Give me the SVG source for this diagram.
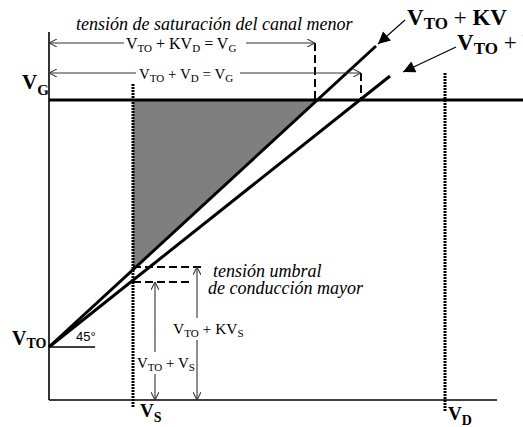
<svg xmlns="http://www.w3.org/2000/svg" width="523" height="427" viewBox="0 0 523 427">
<defs>
<style>
.ax{stroke:#000;stroke-width:1.6;fill:none}
.thick{stroke:#000;stroke-width:3;fill:none}
.dot{stroke:#000;stroke-width:3;stroke-dasharray:2 1;fill:none}
.dash{stroke:#000;stroke-width:2;stroke-dasharray:8 4;fill:none}
.dim{stroke:#333;stroke-width:1.1;fill:none}
.t{font-family:"Liberation Serif","Times New Roman",serif;fill:#000}
.it{font-style:italic}
.b{font-weight:bold}
.s{font-family:"Liberation Sans",Arial,sans-serif;font-size:13px;fill:#000}
</style>
<marker id="oa" viewBox="0 0 10 10" refX="10" refY="5" markerWidth="8" markerHeight="8" markerUnits="userSpaceOnUse" orient="auto-start-reverse">
<path d="M0,0 L10,5 L0,10" fill="none" stroke="#333" stroke-width="1.3"/>
</marker>
<marker id="fa" viewBox="0 0 10 10" refX="10" refY="5" markerWidth="16" markerHeight="12" markerUnits="userSpaceOnUse" orient="auto">
<path d="M0,0 L10,5 L0,10 Z" fill="#000"/>
</marker>
</defs>

<g id="fill-region">
<polygon points="133,100 317,100 133,268" fill="#7f7f7f"/>
</g>

<g id="axes">
<line class="ax" x1="49" y1="32" x2="49" y2="400"/>
<line class="ax" x1="49" y1="400" x2="497" y2="400"/>
<line x1="49" y1="347" x2="95" y2="347" stroke="#000" stroke-width="1.3"/>
</g>

<g id="vg-line">
<line class="thick" x1="49" y1="100" x2="523" y2="100"/>
</g>

<g id="vs-line">
<line class="dot" x1="133" y1="84" x2="133" y2="408"/>
</g>
<g id="vd-line">
<line class="dot" x1="445" y1="73" x2="445" y2="411"/>
</g>

<g id="connectors">
<line class="thick" x1="49" y1="347" x2="376" y2="46"/>
<line class="thick" x1="49" y1="347" x2="390" y2="76"/>
<line class="dash" x1="315" y1="43" x2="315" y2="100"/>
<line class="dash" x1="361" y1="73" x2="361" y2="100"/>
<line class="dash" x1="133" y1="267" x2="205" y2="267"/>
<line class="dash" x1="133" y1="282" x2="189" y2="282"/>
<line class="dim" x1="49" y1="43" x2="124" y2="43" marker-start="url(#oa)"/>
<line class="dim" x1="246" y1="43" x2="315" y2="43" marker-end="url(#oa)"/>
<line class="dim" x1="49" y1="73" x2="136" y2="73" marker-start="url(#oa)"/>
<line class="dim" x1="240" y1="73" x2="361" y2="73" marker-end="url(#oa)"/>
<line class="dim" x1="197" y1="267" x2="197" y2="318" marker-start="url(#oa)"/>
<line class="dim" x1="197" y1="340" x2="197" y2="400" marker-end="url(#oa)"/>
<line class="dim" x1="155" y1="282" x2="155" y2="352" marker-start="url(#oa)"/>
<line class="dim" x1="155" y1="374" x2="155" y2="400" marker-end="url(#oa)"/>
<line x1="405" y1="20" x2="378" y2="44" stroke="#000" stroke-width="1.2" marker-end="url(#fa)"/>
<line x1="456" y1="47" x2="403" y2="72" stroke="#000" stroke-width="1.2" marker-end="url(#fa)"/>
</g>

<g id="title">
<text class="t it" x="76" y="30" font-size="18">tensión de saturación del canal menor</text>
</g>

<g id="label-kvd">
<text class="t" x="126" y="49" font-size="16">V<tspan font-size="11" dy="3">TO</tspan><tspan dy="-3"> + KV</tspan><tspan font-size="11" dy="3">D</tspan><tspan dy="-3"> = V</tspan><tspan font-size="11" dy="3">G</tspan></text>
</g>
<g id="label-vd">
<text class="t" x="139" y="79" font-size="15">V<tspan font-size="11" dy="3">TO</tspan><tspan dy="-3"> + V</tspan><tspan font-size="11" dy="3">D</tspan><tspan dy="-3"> = V</tspan><tspan font-size="11" dy="3">G</tspan></text>
</g>

<g id="label-kv">
<text class="t b" x="407" y="25" font-size="23">V<tspan font-size="17" dy="4">TO</tspan><tspan dy="-4" font-weight="normal"> + </tspan><tspan>KV</tspan></text>
</g>
<g id="label-v">
<text class="t b" x="457" y="50" font-size="23">V<tspan font-size="17" dy="4">TO</tspan><tspan dy="-4" font-weight="normal"> + </tspan><tspan>V</tspan></text>
</g>

<g id="label-vg">
<text class="t b" x="22" y="89" font-size="21">V<tspan font-size="15" dy="6">G</tspan></text>
</g>
<g id="label-vto">
<text class="t b" x="12" y="345" font-size="20">V<tspan font-size="14" dy="3">TO</tspan></text>
</g>
<g id="label-45">
<text class="s" x="76" y="341">45°</text>
</g>
<g id="label-vs">
<text class="t b" x="140" y="417" font-size="19">V<tspan font-size="14" dy="5">S</tspan></text>
</g>
<g id="label-vd-axis">
<text class="t b" x="448" y="420" font-size="19">V<tspan font-size="14" dy="5">D</tspan></text>
</g>

<g id="label-umbral">
<text class="t it" font-size="18"><tspan x="213" y="277">tensión umbral</tspan><tspan x="208" y="294">de conducción mayor</tspan></text>
</g>

<g id="label-kvs">
<text class="t" x="173" y="334" font-size="15.5">V<tspan font-size="11" dy="3">TO</tspan><tspan dy="-3"> + KV</tspan><tspan font-size="11" dy="3">S</tspan></text>
</g>
<g id="label-vs-dim">
<text class="t" x="137" y="368" font-size="15">V<tspan font-size="11" dy="3">TO</tspan><tspan dy="-3"> + V</tspan><tspan font-size="11" dy="3">S</tspan></text>
</g>
</svg>
